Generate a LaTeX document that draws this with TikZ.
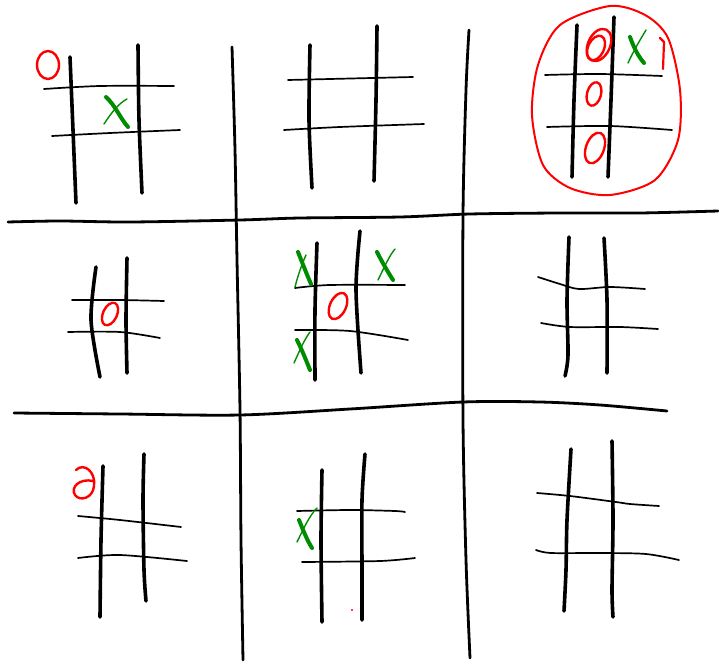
\documentclass[tikz,border=0pt]{standalone}
\usepackage{tikz}
\definecolor{ored}{RGB}{255,0,0}
\definecolor{xgreen}{RGB}{0,140,0}
\begin{document}
\begin{tikzpicture}[x=1pt,y=-1pt, line cap=round, line join=round,
  big/.style={line width=2.8pt},
  vln/.style={line width=3.6pt},
  hln/.style={line width=1.7pt},
  omark/.style={draw=ored,line width=2.4pt},
  xthick/.style={draw=xgreen,line width=4pt},
  xthin/.style={draw=xgreen,line width=1.4pt}]
\useasboundingbox (0,0) rectangle (719,663);
% big grid
\draw[big] plot[smooth] coordinates {(232,47) (235,150) (237,260) (240,410) (241,540) (243,660)};
\draw[big] plot[smooth] coordinates {(469,30) (466,90) (463,215) (463,420) (466,560) (470,658)};
\draw[big] plot[smooth] coordinates {(8,222) (60,221) (130,222) (240,220) (300,218) (400,217) (470,214) (560,213) (640,213) (718,211)};
\draw[big] plot[smooth] coordinates {(14,413) (120,414) (240,415) (350,409) (463,402) (540,402) (600,405) (667,411)};
% board TL
\draw[vln] plot[smooth] coordinates {(70,57) (73,130) (76,203)};
\draw[vln] plot[smooth] coordinates {(138,45) (139,120) (142,193)};
\draw[hln] plot[smooth] coordinates {(44,89) (100,86) (174,86)};
\draw[hln] plot[smooth] coordinates {(52,136) (110,133) (180,130)};
\draw[omark] (48,65) ellipse[x radius=11, y radius=14];
\draw[xthick] (106,97) .. controls (115,105) and (120,118) .. (128,127);
\draw[xthin] (104,124) .. controls (112,112) and (118,104) .. (127,99);
% board TM
\draw[vln] plot[smooth] coordinates {(310,45) (309,120) (312,188)};
\draw[vln] plot[smooth] coordinates {(377,26) (376,100) (374,181)};
\draw[hln] plot[smooth] coordinates {(288,80) (330,79) (413,77)};
\draw[hln] plot[smooth] coordinates {(284,130) (340,127) (424,124)};
% board TR
\draw[vln] plot[smooth] coordinates {(577,25) (574,100) (572,177)};
\draw[vln] plot[smooth] coordinates {(614,17) (611,100) (608,177)};
\draw[hln] plot[smooth] coordinates {(545,75) (600,74) (662,76)};
\draw[hln] plot[smooth] coordinates {(547,127) (610,126) (672,130)};
\draw[omark] (599,45) ellipse[x radius=11, y radius=17, rotate=-25];
\draw[omark] (596,48) ellipse[x radius=8, y radius=13, rotate=-25];
\draw[omark] (594,94) ellipse[x radius=7, y radius=12, rotate=-15];
\draw[omark] (595,148) ellipse[x radius=9, y radius=16, rotate=-20];
\draw[xthick] (630,37) .. controls (634,48) and (638,56) .. (644,63);
\draw[xthin] (628,63) .. controls (634,50) and (640,40) .. (646,30);
\draw[draw=ored,line width=2pt] plot[smooth cycle] coordinates {(610,6) (645,15) (668,38) (680,90) (678,140) (655,180) (610,195) (570,188) (543,165) (532,115) (538,65) (560,25)};
\draw[draw=ored,line width=2.2pt] (660,38) -- (664,42) -- (663,69);
% board ML
\draw[vln] plot[smooth] coordinates {(96,267) (91,320) (100,377)};
\draw[vln] plot[smooth] coordinates {(127,258) (126,320) (127,373)};
\draw[hln] plot[smooth] coordinates {(72,300) (120,300) (164,301)};
\draw[hln] plot[smooth] coordinates {(68,332) (120,332) (160,338)};
\draw[omark] (110,314) ellipse[x radius=7, y radius=12, rotate=-25];
% board MM
\draw[vln] plot[smooth] coordinates {(317,243) (315,310) (315,380)};
\draw[vln] plot[smooth] coordinates {(360,231) (356,290) (361,373)};
\draw[hln] plot[smooth] coordinates {(295,288) (330,285) (405,285)};
\draw[hln] plot[smooth] coordinates {(295,330) (350,331) (408,340)};
\draw[omark] (338,306) ellipse[x radius=8, y radius=14, rotate=-25];
\draw[xthick] (298,252) .. controls (302,262) and (307,275) .. (311,284);
\draw[xthin] (295,287) .. controls (298,275) and (302,264) .. (306,255);
\draw[xthick] (377,252) .. controls (382,262) and (388,272) .. (393,280);
\draw[xthin] (378,280) .. controls (384,268) and (389,256) .. (395,249);
\draw[xthick] (297,340) .. controls (302,350) and (306,360) .. (310,370);
\draw[xthin] (294,363) .. controls (299,352) and (304,340) .. (310,332);
% board MR
\draw[vln] plot[smooth] coordinates {(569,237) (567,300) (568,355) (565,376)};
\draw[vln] plot[smooth] coordinates {(604,238) (607,300) (607,373)};
\draw[hln] plot[smooth] coordinates {(538,277) (560,284) (579,289) (610,287) (645,289)};
\draw[hln] plot[smooth] coordinates {(541,323) (570,327) (620,327) (658,329)};
% board BL
\draw[vln] plot[smooth] coordinates {(103,466) (101,540) (100,617)};
\draw[vln] plot[smooth] coordinates {(144,454) (143,500) (144,570) (146,601)};
\draw[hln] plot[smooth] coordinates {(78,516) (120,520) (181,527)};
\draw[hln] plot[smooth] coordinates {(78,558) (120,555) (187,561)};
\draw[omark] (76,470) .. controls (84,462) and (96,472) .. (94,486) .. controls (93,498) and (80,502) .. (75,495) .. controls (70,487) and (80,478) .. (93,481);
% board BM
\draw[vln] plot[smooth] coordinates {(322,470) (321,540) (322,622)};
\draw[vln] plot[smooth] coordinates {(365,454) (362,500) (362,570) (362,620)};
\draw[hln] plot[smooth] coordinates {(297,511) (350,510) (395,511) (405,512)};
\draw[hln] plot[smooth] coordinates {(302,562) (380,561) (415,558)};
\draw[xthick] (299,520) .. controls (303,530) and (307,540) .. (312,548);
\draw[xthin] (297,542) .. controls (303,530) and (309,516) .. (317,508);
\fill[ored] (352,610) circle (1.1);
% board BR
\draw[vln] plot[smooth] coordinates {(571,449) (567,520) (566,570) (564,611)};
\draw[vln] plot[smooth] coordinates {(612,441) (613,520) (612,590) (613,617)};
\draw[hln] plot[smooth] coordinates {(537,493) (570,496) (616,502) (630,504) (659,506)};
\draw[hln] plot[smooth] coordinates {(536,550) (551,553) (600,553) (646,554) (679,560)};
\end{tikzpicture}
\end{document}
